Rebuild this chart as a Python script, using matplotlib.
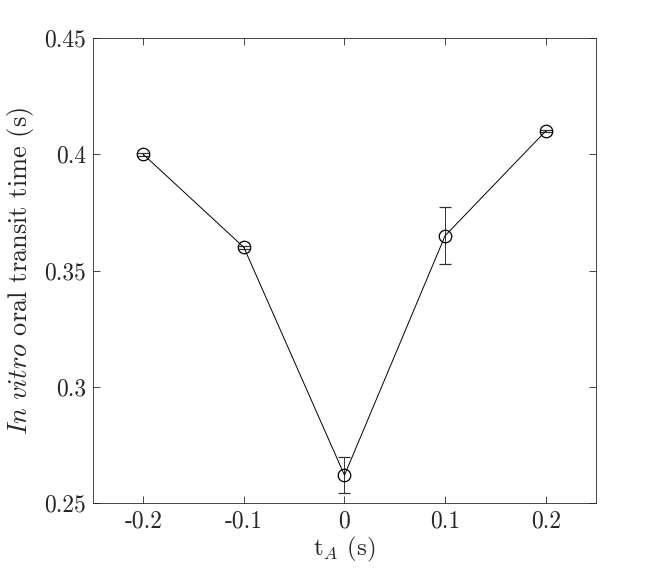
import matplotlib
matplotlib.use("Agg")
import matplotlib.pyplot as plt

# data
t_a = [-0.2, -0.1, 0.0, 0.1, 0.2]
transit = [0.400, 0.360, 0.262, 0.365, 0.410]
err = [0.0005, 0.0005, 0.0078, 0.0122, 0.0005]

xticks = [-0.2, -0.1, 0, 0.1, 0.2]
xticklabels = ["-0.2", "-0.1", "0", "0.1", "0.2"]
yticks = [0.25, 0.3, 0.35, 0.4, 0.45]
yticklabels = ["0.25", "0.3", "0.35", "0.4", "0.45"]

plt.rcParams["font.family"] = "cmr10"
plt.rcParams["mathtext.fontset"] = "cm"
plt.rcParams["axes.unicode_minus"] = False

fig = plt.figure(figsize=(6.64, 5.77), dpi=100)
ax = fig.add_axes([0.140, 0.128, 0.7576, 0.806])

ax.errorbar(t_a, transit, yerr=err, color="black", linewidth=0.7,
            elinewidth=0.7, capsize=4, capthick=0.7, ecolor="#333333",
            marker="o", markersize=9, markerfacecolor="none",
            markeredgecolor="black", markeredgewidth=0.9)

ax.set_xlim(-0.25, 0.25)
ax.set_ylim(0.25, 0.45)
ax.set_xticks(xticks)
ax.set_xticklabels(xticklabels)
ax.set_yticks(yticks)
ax.set_yticklabels(yticklabels)
ax.tick_params(direction="in", top=True, right=True, length=5,
               width=0.6, labelsize=17, colors="#262626", pad=5)
for s in ax.spines.values():
    s.set_linewidth(0.6)
    s.set_color("#262626")

ax.set_xlabel(r"t$_A$ (s)", fontsize=18, color="#262626", labelpad=2)
ax.set_ylabel(r"$\mathit{In\ vitro}$ oral transit time (s)", fontsize=19,
              color="#262626", labelpad=6)

fig.savefig("out.png", dpi=100)
